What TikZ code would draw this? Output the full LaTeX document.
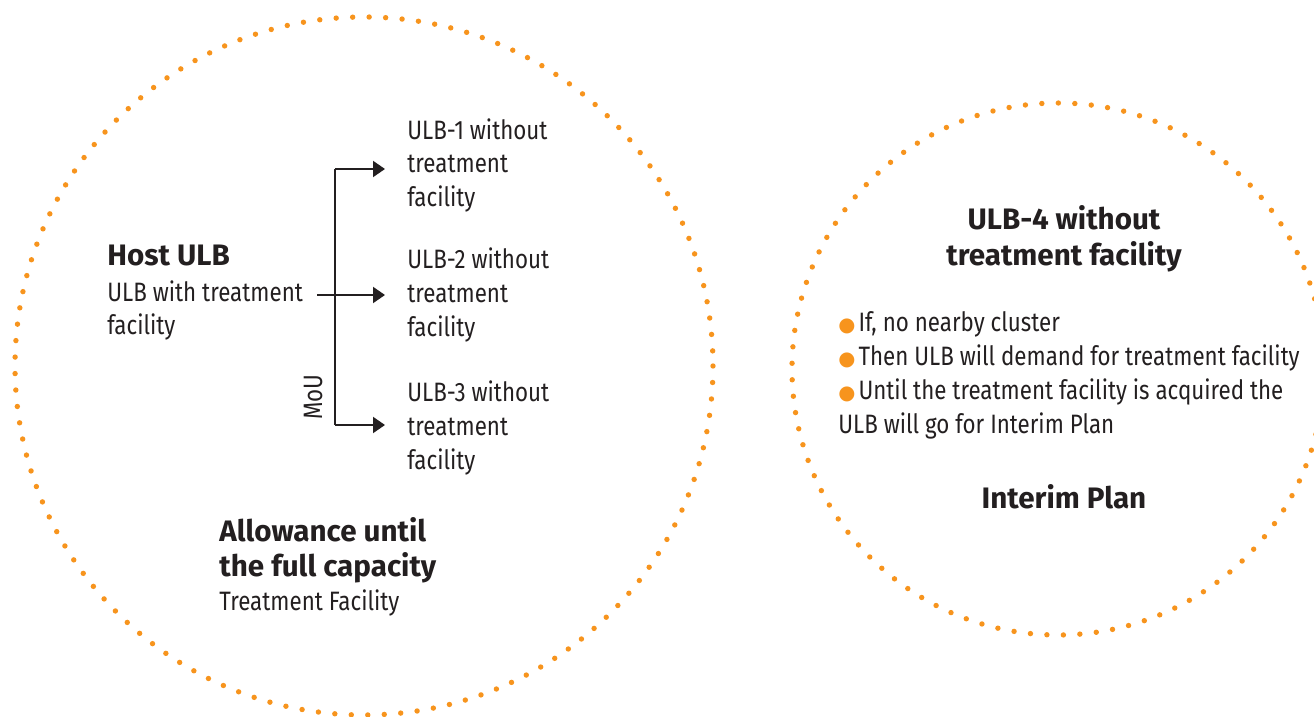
\documentclass[tikz,border=0pt]{standalone}
\usepackage{fontspec}
\setmainfont[FakeStretch=0.84]{Fira Sans}
\newfontfamily\headfont{Fira Sans}
\newfontfamily\symfont{DejaVu Sans}
\usetikzlibrary{arrows.meta,positioning}
\definecolor{dotorange}{HTML}{F7941D}
\definecolor{inkgrey}{HTML}{231F20}
\newcommand{\orangebullet}{{\symfont\fontsize{9.8}{17}\selectfont\textcolor{dotorange}{●}}\hspace{1.5pt}}
\newcommand{\headline}{\headfont\bfseries\fontsize{14.8}{17.5}\selectfont}
\tikzset{
  dotring/.style={dotorange, line width=2.7pt, line cap=round, dash pattern=on 0pt off 8.25pt},
  plaintext/.style={inner sep=0pt, anchor=base west, align=left, text=inkgrey, font=\fontsize{13.3}{17}\selectfont},
  headtext/.style={inner sep=0pt, anchor=base, align=center, text=inkgrey, font=\headline},
  flow/.style={inkgrey, line width=1pt, -{Triangle[length=6pt,width=8pt]}, shorten >=11pt}
}
\begin{document}
\begin{tikzpicture}[x=0.5pt,y=-0.5pt]
    \useasboundingbox (0,0) rectangle (1314,717);
    % dotted rings
    \draw[dotring] (364,366) circle (349);
    \draw[dotring] (1058,369) circle (266);
    % left ring
    \node[plaintext] (host) at (107,335) {{\headline Host ULB}\\[0.5pt]ULB with treatment\\facility};
    \node[plaintext] (ulb1) at (407,207) {ULB-1 without\\treatment\\facility};
    \node[plaintext] (ulb2) at (407,336) {ULB-2 without\\treatment\\facility};
    \node[plaintext] (ulb3) at (407,469) {ULB-3 without\\treatment\\facility};
    \node[plaintext, rotate=90, anchor=center] (mou) at (313,397) {MoU};
    \node[plaintext] (allow) at (219,610) {{\headline Allowance until}\\[0.5pt]{\headline the full capacity}\\Treatment Facility};
    \coordinate (trunktop) at (335,169);
    \coordinate (trunkbot) at (335,425);
    \coordinate (hostout) at (317,295);
    \draw[inkgrey, line width=1pt] (trunktop) -- (trunkbot);
    \draw[flow] (trunktop) -- (trunktop -| ulb1.west);
    \draw[flow] (hostout) -- (hostout -| ulb2.west);
    \draw[flow] (trunkbot) -- (trunkbot -| ulb3.west);
    % right ring
    \node[headtext] (ulb4) at (1064,265) {ULB-4 without\\treatment facility};
    \node[plaintext] (notes) at (838,433) {\orangebullet If, no nearby cluster\\
      \orangebullet Then ULB will demand for treatment facility\\
      \orangebullet Until the treatment facility is acquired the\\
      ULB will go for Interim Plan};
    \node[headtext] (interim) at (1064,508) {Interim Plan};
\end{tikzpicture}
\end{document}
